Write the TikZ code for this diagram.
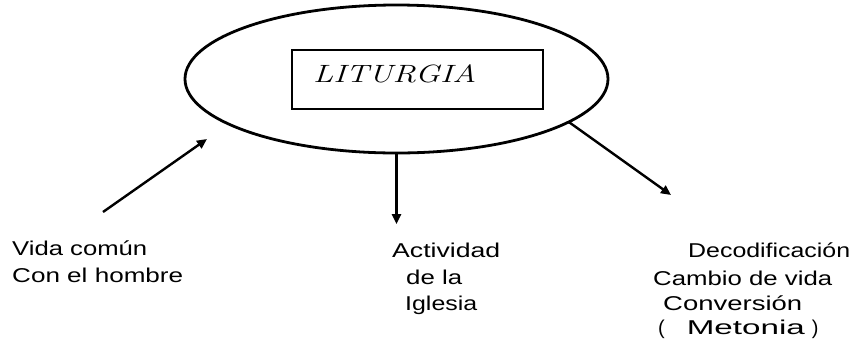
\documentclass[tikz,border=0pt]{standalone}
\usepackage{fontspec}
\usepackage{graphicx}
\newfontfamily\arialf{Liberation Sans}
\usetikzlibrary{shapes.geometric,arrows.meta}
\newcommand{\wline}[2]{\resizebox{#1pt}{\height}{#2}}
\tikzset{
  lbl/.style={anchor=base west, inner sep=0pt, font=\arialf\fontsize{20}{24}\selectfont},
  conn/.style={line width=2.4pt, -{Triangle[length=10pt,width=9pt]}},
}
\begin{document}
\begin{tikzpicture}[x=1pt,y=-1pt]
\useasboundingbox (0,0) rectangle (851,341);
% ellipse
\node[ellipse, draw, line width=2.8pt, minimum width=423pt, minimum height=148pt, inner sep=0pt, outer sep=0pt] (ell) at (396.5,79) {};
% box
\node[draw, line width=1.1pt, minimum width=251pt, minimum height=59pt, inner sep=0pt] (box) at (417.5,79.5) {};
\node[anchor=base west, inner sep=0pt, font=\fontsize{25}{30}\selectfont\itshape] (lit) at (313,82) {\wline{163}{LITURGIA}};
% left text
\node[lbl] (v1) at (12,255) {\wline{135}{Vida común}};
\node[lbl] (v2) at (12,282) {\wline{171}{Con el hombre}};
% middle text
\node[lbl] (a1) at (392,257) {\wline{108}{Actividad}};
\node[lbl] (a2) at (406,284) {\wline{56}{de la}};
\node[lbl] (a3) at (405,310) {\wline{72}{Iglesia}};
% right text
\node[lbl] (d1) at (688,257) {\wline{162}{Decodificación}};
\node[lbl] (d2) at (653,285) {\wline{179}{Cambio de vida}};
\node[lbl] (d3) at (663,310) {\wline{139}{Conversión}};
\node[lbl] (d4) at (658,334) {(\hspace{22pt}\wline{118}{Metonia}\hspace{7pt})};
% connectors
\coordinate (s1) at (103,212);
\coordinate (e1) at (207,139);
\draw[conn] (s1) -- (e1);
\coordinate (e2) at (396.5,224);
\draw[conn] (ell.south) -- (e2);
\coordinate (e3) at (671,195);
\draw[conn] (ell.-14.8) -- (e3);
\end{tikzpicture}
\end{document}
